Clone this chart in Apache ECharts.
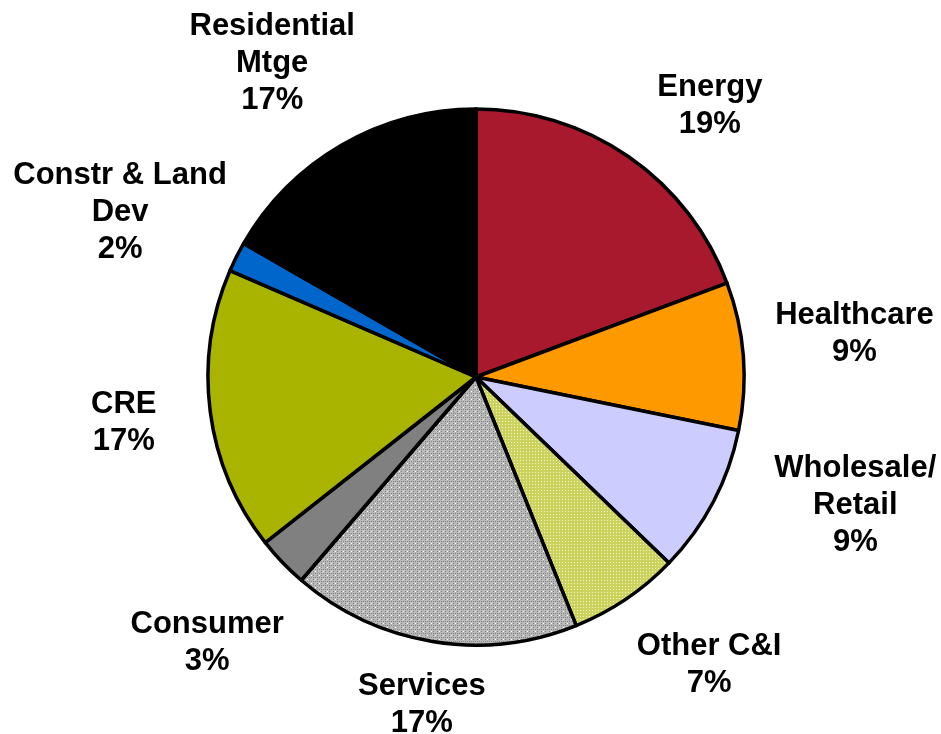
<!DOCTYPE html>
<html>
<head>
<meta charset="utf-8">
<script src="https://cdn.jsdelivr.net/npm/echarts@6/dist/echarts.min.js"></script>
<style>
  html, body { margin: 0; padding: 0; background: #fff; }
  #chart { width: 941px; height: 734px; }
</style>
</head>
<body>
<div id="chart"></div>
<script>
const categories = [
  'Energy', 'Healthcare', 'Wholesale/\nRetail', 'Other C&I', 'Services',
  'Consumer', 'CRE', 'Constr & Land\nDev', 'Residential\nMtge'
];
const shares = [19.3, 8.9, 9.0, 6.7, 17.4, 3.1, 17.1, 1.8, 16.7];
const colors = [
  '#A8192E', '#FF9900', '#CCCCFF', 'dots', 'hatch',
  '#808080', '#A8B400', '#0066CC', '#000000'
];
// small nudges so labels sit where the original placed them
const labelNudge = [6, -2, -9, -5, 0, -1, 0, -1.8, -3];  // degrees
const labelPush = [0, 2, 10, 0, -10, 2, 22, -24, -14];   // px, radial

const CX = 476, CY = 377, R = 268, GAP = 28;

function makePattern(kind) {
  const c = document.createElement('canvas');
  const ctx = c.getContext('2d');
  if (kind === 'dots') {
    c.width = 3; c.height = 3;
    ctx.fillStyle = '#CBD25E';
    ctx.fillRect(0, 0, 3, 3);
    ctx.fillStyle = '#F2F4BE';
    ctx.fillRect(1, 1, 1, 1);
  } else {
    c.width = 8; c.height = 8;
    ctx.fillStyle = '#B8B8B8';
    ctx.fillRect(0, 0, 8, 8);
    ctx.fillStyle = '#8A8A8A';
    for (let y = 0; y < 8; y++) {
      for (let x = 0; x < 8; x++) {
        if ((x + y) % 2 === 0 && (x % 4 === 1 || y % 4 === 1)) ctx.fillRect(x, y, 1, 1);
      }
    }
    ctx.fillStyle = '#FFFFFF';
    ctx.fillRect(3, 3, 1, 1);
    ctx.fillRect(7, 7, 1, 1);
  }
  return { image: c, repeat: 'repeat' };
}

const total = shares.reduce((a, b) => a + b, 0);
const cum = [];
shares.reduce((acc, v, i) => { cum[i] = acc; return acc + v; }, 0);

const data = categories.map((name, i) => ({
  name: name,
  value: shares[i],
  itemStyle: {
    color: (colors[i] === 'dots' || colors[i] === 'hatch') ? makePattern(colors[i]) : colors[i]
  }
}));

const chart = echarts.init(document.getElementById('chart'), null, { renderer: 'canvas' });
chart.setOption({
  animation: false,
  series: [{
    type: 'pie',
    center: [CX, CY],
    radius: R,
    startAngle: 90,
    clockwise: true,
    percentPrecision: 0,
    data: data,
    itemStyle: { borderColor: '#000', borderWidth: 3.5 },
    emphasis: { disabled: true },
    labelLine: { show: false },
    label: {
      show: true,
      position: 'outside',
      formatter: '{b}\n{d}%',
      color: '#000',
      fontFamily: 'Liberation Sans, Arial, sans-serif',
      fontWeight: 'bold',
      fontSize: 31,
      lineHeight: 37,
      align: 'center',
      overflow: 'none'
    },
    labelLayout: function (p) {
      const i = p.dataIndex;
      const mid = (cum[i] + shares[i] / 2) / total * Math.PI * 2 + labelNudge[i] * Math.PI / 180;
      const ux = Math.sin(mid), uy = -Math.cos(mid);
      const w = p.labelRect.width, h = p.labelRect.height;
      const d = R + GAP + labelPush[i] + Math.abs(ux) * w / 2 + Math.abs(uy) * h / 2;
      return {
        x: CX + ux * d,
        y: CY + uy * d,
        align: 'center',
        verticalAlign: 'middle'
      };
    }
  }]
});
</script>
</body>
</html>
